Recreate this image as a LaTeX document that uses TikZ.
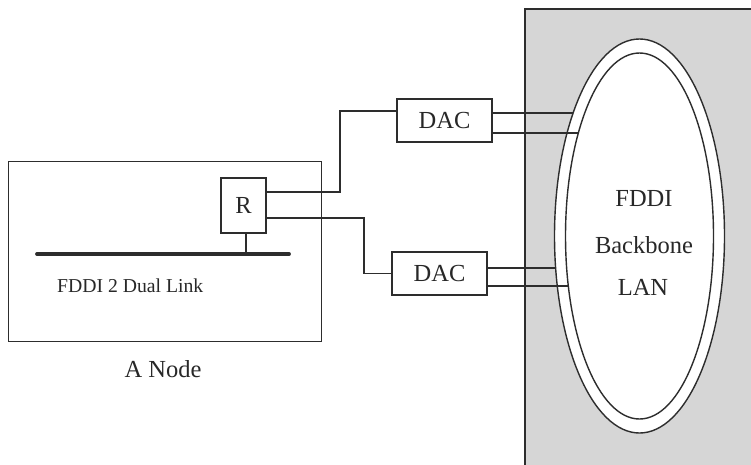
\documentclass[tikz,border=0pt]{standalone}
\usepackage{fontspec}
\setmainfont{Liberation Serif}
\usetikzlibrary{shapes.geometric,calc}
\definecolor{bggray}{RGB}{214,214,214}
\definecolor{linec}{RGB}{45,45,45}
\definecolor{textc}{RGB}{40,40,40}
\tikzset{
  wire/.style={draw=linec, line width=1.4pt},
  boxn/.style={draw=linec, line width=1.4pt, fill=white, inner sep=0pt, text=textc,
    font=\fontsize{24.5}{29}\selectfont},
  lbl/.style={inner sep=0pt, text=textc, font=\fontsize{24.5}{29}\selectfont},
  ring/.style={ellipse, draw=linec, line width=1.4pt, fill=white, inner sep=0pt}
}
\begin{document}
\begin{tikzpicture}[x=1pt,y=-1pt]
\clip (0,0) rectangle (751,464);
\fill[white] (0,0) rectangle (751,464);
% backbone area
\draw[fill=bggray, draw=linec, line width=1.4pt] (525,9) rectangle (800,500);
\node[ring, minimum width=170pt, minimum height=394pt] (outer) at (639.5,236) {};
\node[ring, minimum width=148pt, minimum height=366pt] (inner) at (639.5,236) {};
\node[lbl] (t1) at (644,198.5) {FDDI};
\node[lbl] (t2) at (644,245) {Backbone};
\node[lbl] (t3) at (643,287) {LAN};
% the node box
\node[draw=linec, line width=1.4pt, minimum width=313pt, minimum height=180pt, anchor=north west, inner sep=0pt] (anode) at (8,161) {};
\node[lbl] (anodelbl) at (163,369) {A Node};
\node[lbl, anchor=west, font=\fontsize{19.7}{23}\selectfont] (dual) at (57,285.5) {FDDI 2 Dual Link};
% R and bus
\node[boxn, minimum width=45pt, minimum height=55pt] (R) at (243.5,205.5) {R};
\coordinate (busL) at (37,254);
\coordinate (busR) at (289,254);
\draw[draw=linec, line width=3.8pt, line cap=round] (busL) -- (busR);
\coordinate (stemtop) at ($(R.south)+(2.5,0)$);
\draw[wire] (stemtop) -- (stemtop |- busL);
% DACs
\node[boxn, minimum width=95pt, minimum height=43pt] (dac1) at (444.5,120.5) {DAC};
\node[boxn, minimum width=95pt, minimum height=43pt] (dac2) at (439.5,273.5) {DAC};
% R to DACs
\coordinate (Rt) at ($(R.east)+(0,-13.5)$);
\coordinate (Rb) at ($(R.east)+(0,12.5)$);
\coordinate (d1in) at ($(dac1.west)+(0,-9.5)$);
\coordinate (jog1) at (340,111);
\coordinate (jog2) at (364,273.5);
\draw[wire] (Rt) -| (jog1) -- (d1in);
\draw[wire] (Rb) -| (jog2) -- (dac2.west);
% DAC to ring
\coordinate (d1a) at ($(dac1.east)+(0,-7.5)$);
\coordinate (d1b) at ($(dac1.east)+(0,12.5)$);
\coordinate (d2a) at ($(dac2.east)+(0,-5.5)$);
\coordinate (d2b) at ($(dac2.east)+(0,12.5)$);
\coordinate (e1) at ({639.5-85*sqrt(1-((113-236)/197)^2)},113);
\coordinate (e2) at ({639.5-74*sqrt(1-((133-236)/183)^2)},133);
\coordinate (e3) at ({639.5-85*sqrt(1-((268-236)/197)^2)},268);
\coordinate (e4) at ({639.5-74*sqrt(1-((286-236)/183)^2)},286);
\draw[wire] (d1a) -- (e1);
\draw[wire] (d1b) -- (e2);
\draw[wire] (d2a) -- (e3);
\draw[wire] (d2b) -- (e4);
\end{tikzpicture}
\end{document}
